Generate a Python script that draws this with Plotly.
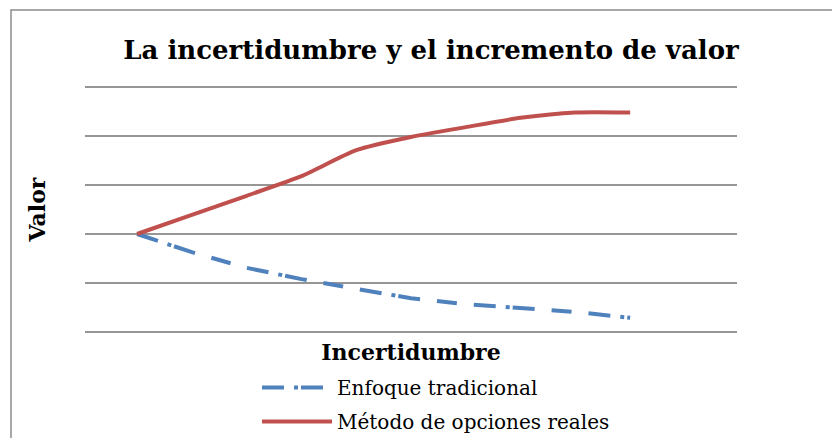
import plotly.graph_objects as go

# Data (y in gridline units 0..5)
categories = list(range(10))
enfoque_tradicional = [2.00, 1.63, 1.31, 1.08, 0.88, 0.69, 0.57, 0.49, 0.41, 0.29]
metodo_opciones = [2.00, 2.39, 2.78, 3.18, 3.71, 3.98, 4.18, 4.37, 4.48, 4.48]
series_names = ["Enfoque tradicional", "Método de opciones reales"]

SERIF = "DejaVu Serif"
# the page body adds an 8px offset, so the figure is 8px smaller
W, H = 832, 430
ML, MR, MT, MB = 77, 103, 76, 103
pw = W - ML - MR
ph = H - MT - MB
plot_bottom = H - MB

fig = go.Figure()
fig.add_trace(go.Scatter(
    x=categories, y=enfoque_tradicional, mode="lines", name=series_names[0],
    legendgroup="a",
    line=dict(color="#4F81BD", width=4, dash="22px,10px,4px,3px,22px,17px,20px,17px"),
))
fig.add_trace(go.Scatter(
    x=categories, y=metodo_opciones, mode="lines", name=series_names[1],
    legendgroup="b",
    line=dict(color="#C0504D", width=4, shape="spline", smoothing=0.6),
))

# outer chart border (only left and top visible in the crop)
fig.add_shape(type="rect", xref="paper", yref="paper",
              x0=(3 - ML) / pw, x1=(W + 20 - ML) / pw,
              y0=(plot_bottom - (H + 20)) / ph, y1=(plot_bottom - 2) / ph,
              line=dict(color="#8C8C8C", width=1.5), layer="below")

fig.update_layout(
    width=W, height=H,
    margin=dict(l=ML, r=MR, t=MT, b=MB, autoexpand=False),
    paper_bgcolor="white", plot_bgcolor="white",
    title=dict(text="<b>La incertidumbre y el incremento de valor</b>",
               x=423 / W, xanchor="center", y=1 - 42 / H, yanchor="middle",
               font=dict(family=SERIF, size=26, color="black")),
    xaxis=dict(range=[-0.95, 10.95], showgrid=False, zeroline=False, showline=False,
               showticklabels=False, ticks="", automargin=False,
               title=dict(text="<b>Incertidumbre</b>", standoff=9,
                          font=dict(family=SERIF, size=22, color="black"))),
    yaxis=dict(range=[-0.06, 5.06], dtick=1, showgrid=True, gridcolor="#969696", gridwidth=1.5,
               zeroline=False, showline=False, showticklabels=False, ticks="", automargin=False,
               title=dict(text="<b>Valor</b>", standoff=32,
                          font=dict(family=SERIF, size=22, color="black"))),
    legend=dict(orientation="v", x=(249 - ML) / pw, xanchor="left",
                y=-(360 - plot_bottom) / ph, yanchor="top",
                font=dict(family=SERIF, size=20, color="black"),
                bgcolor="rgba(0,0,0,0)", itemwidth=70, tracegroupgap=5,
                traceorder="grouped"),
    showlegend=True,
)

fig.write_html("out.html")
